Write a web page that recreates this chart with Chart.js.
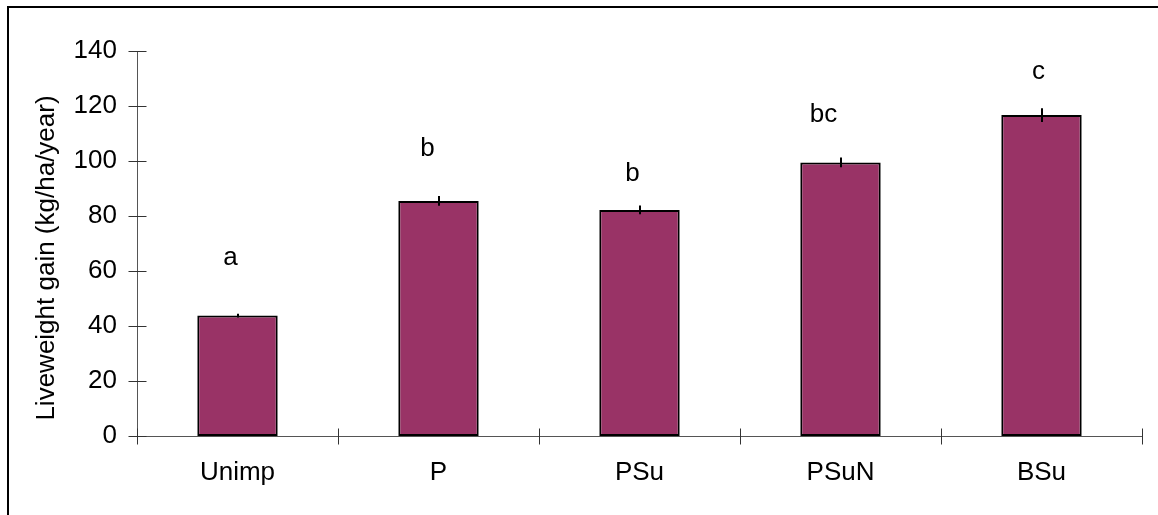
<!DOCTYPE html>
<html>
<head>
<meta charset="utf-8">
<script src="https://cdn.jsdelivr.net/npm/chart.js@4/dist/chart.umd.min.js"></script>
<style>
  html, body { margin: 0; padding: 0; background: #fff; }
  #wrap { position: relative; width: 1158px; height: 515px; overflow: hidden; }
  #frame { position: absolute; left: 7px; top: 6px; width: 1400px; height: 800px;
           border-left: 2px solid #000; border-top: 2px solid #000; }
  #c { position: absolute; left: 0; top: 0; }
</style>
</head>
<body>
<div id="wrap">
  <div id="frame"></div>
  <canvas id="c" width="1158" height="515"></canvas>
</div>
<script>
// Treatments and annual liveweight gain (kg/ha/year)
const treatments = ['Unimp', 'P', 'PSu', 'PSuN', 'BSu'];
const liveweightGain = [43.8, 85.5, 82.2, 99.5, 116.7];
const standardError = [0.7, 1.8, 1.6, 1.8, 2.5];
const significanceLetters = ['a', 'b', 'b', 'bc', 'c'];
const yTicks = [0, 20, 40, 60, 80, 100, 120, 140];
const yTitle = 'Liveweight gain (kg/ha/year)';

const FONT = '"Liberation Sans", Arial, Helvetica, sans-serif';

// Tick marks that cross the axis lines, error bars, significance letters and axis title
const decorations = {
  id: 'decorations',
  afterDatasetsDraw(chart, args, opts) {
    const ctx = chart.ctx;
    const xs = chart.scales.x, ys = chart.scales.y;
    const meta = chart.getDatasetMeta(0);
    ctx.save();

    // error bars
    ctx.strokeStyle = '#000';
    ctx.lineWidth = 2;
    meta.data.forEach((bar, i) => {
      const v = liveweightGain[i], e = standardError[i];
      ctx.beginPath();
      ctx.moveTo(Math.round(bar.x), ys.getPixelForValue(v + e));
      ctx.lineTo(Math.round(bar.x), ys.getPixelForValue(v - e));
      ctx.stroke();
    });

    // letters of significance
    ctx.fillStyle = '#000';
    ctx.font = opts.letterFont;
    ctx.textAlign = 'center';
    ctx.textBaseline = 'middle';
    meta.data.forEach((bar, i) => {
      ctx.fillText(significanceLetters[i], bar.x + opts.letterShift[i],
                   ys.getPixelForValue(opts.letterLevels[i]));
    });

    // tick marks crossing the axes
    ctx.strokeStyle = '#333';
    ctx.lineWidth = 1;
    const ax = Math.round(ys.left + ys.width) + 0.5;
    yTicks.forEach(t => {
      const y = Math.round(ys.getPixelForValue(t)) + 0.5;
      ctx.beginPath();
      ctx.moveTo(ax - 9, y);
      ctx.lineTo(ax + 9, y);
      ctx.stroke();
    });
    const ay = Math.round(xs.top) + 0.5;
    for (let i = 0; i <= treatments.length; i++) {
      const x = Math.round(xs.getPixelForValue(i - 0.5)) + 0.5;
      ctx.beginPath();
      ctx.moveTo(x, ay - 8);
      ctx.lineTo(x, ay + 8);
      ctx.stroke();
    }

    // y-axis title
    ctx.fillStyle = '#000';
    ctx.font = opts.titleFont;
    ctx.translate(opts.titleX, opts.titleY);
    ctx.rotate(-Math.PI / 2);
    ctx.textAlign = 'center';
    ctx.textBaseline = 'middle';
    ctx.fillText(yTitle, 0, 0);
    ctx.restore();
  }
};

new Chart(document.getElementById('c'), {
  type: 'bar',
  data: {
    labels: treatments,
    datasets: [{
      data: liveweightGain,
      backgroundColor: '#993366',
      borderColor: '#000',
      borderWidth: 2,
      borderSkipped: false,
      barPercentage: 0.4,
      categoryPercentage: 1.0
    }]
  },
  options: {
    responsive: false,
    animation: false,
    devicePixelRatio: 1,
    layout: { padding: { left: 0, top: 51, right: 16, bottom: 0 } },
    plugins: {
      legend: { display: false },
      tooltip: { enabled: false },
      decorations: {
        letterFont: '26px ' + FONT,
        titleFont: '26px ' + FONT,
        letterLevels: [64.7, 104.4, 95.3, 116.7, 132.4],
        letterShift: [-7, -11, -7, -17, -3],
        titleX: 47,
        titleY: 258
      }
    },
    scales: {
      x: {
        type: 'category',
        offset: true,
        grid: { display: false, drawTicks: false },
        border: { display: true, color: '#555', width: 1 },
        ticks: { color: '#000', font: { family: FONT, size: 26 }, padding: 21, maxRotation: 0 },
        afterFit(s) { s.height = 79; }
      },
      y: {
        min: 0,
        max: 140,
        grid: { display: false, drawTicks: false },
        border: { display: true, color: '#555', width: 1 },
        ticks: {
          stepSize: 20,
          color: '#000',
          font: { family: FONT, size: 26 },
          padding: 20
        },
        afterFit(s) { s.width = 137; }
      }
    }
  },
  plugins: [decorations]
});
</script>
</body>
</html>
